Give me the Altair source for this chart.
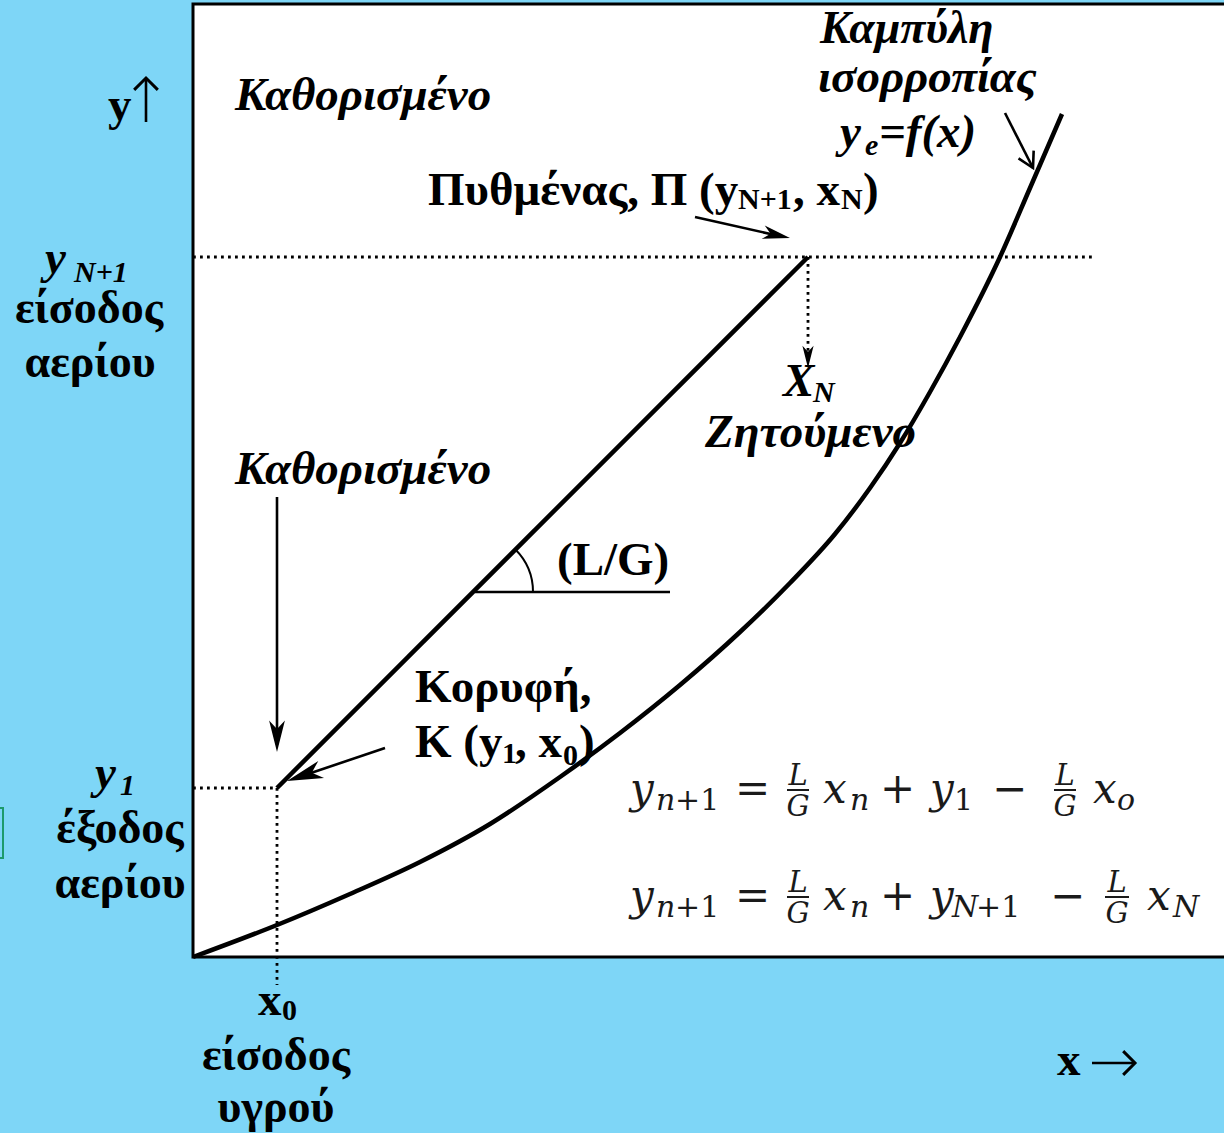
import altair as alt
import pandas as pd

# ---- diagram coordinates (x: liquid concentration, y: gas concentration) ----
# equilibrium curve y_e = f(x)
eq_x = [0.00, 0.84, 1.57, 2.27, 2.97, 3.67, 4.27, 4.87, 5.47, 5.97, 6.42, 6.77, 7.07, 7.37, 7.67, 8.07, 8.37, 8.69]
eq_y = [0.00, 0.32, 0.63, 0.95, 1.33, 1.80, 2.24, 2.72, 3.25, 3.74, 4.23, 4.69, 5.14, 5.65, 6.20, 7.00, 7.69, 8.43]

# operating line: top K(x0, y1) to bottom P(xN, yN+1), slope L/G
x0, y1 = 0.84, 1.69
xN, yN1 = 6.15, 7.00

X_DOMAIN = [-1.93, 10.31]
Y_DOMAIN = [-1.76, 9.57]
FONT = "Liberation Serif"
MATH_FONT = "DejaVu Serif"
BG = "#7ED6F7"

xs = alt.Scale(domain=X_DOMAIN, nice=False, zero=False)
ys = alt.Scale(domain=Y_DOMAIN, nice=False, zero=False)


def X(field="x"):
    return alt.X(f"{field}:Q", scale=xs, axis=None)


def Y(field="y"):
    return alt.Y(f"{field}:Q", scale=ys, axis=None)


# white plotting frame
frame = alt.Chart(pd.DataFrame({"x": [0.0], "x2": [10.6], "y": [0.0], "y2": [9.53]})).mark_rect(
    fill="white", stroke="black", strokeWidth=3, clip=True
).encode(x=X(), x2="x2:Q", y=Y(), y2="y2:Q")

# small green box fragment at the left edge
green = alt.Chart(pd.DataFrame({"x": [-2.05], "x2": [-1.90], "y": [0.99], "y2": [1.49]})).mark_rect(
    filled=False, stroke="#1d9a6c", strokeWidth=2, clip=True
).encode(x=X(), x2="x2:Q", y=Y(), y2="y2:Q")

# equilibrium curve
curve = alt.Chart(pd.DataFrame({"x": eq_x, "y": eq_y})).mark_line(
    color="black", strokeWidth=4.5, interpolate="monotone"
).encode(x=X(), y=Y())

# operating line
op_line = alt.Chart(pd.DataFrame({"x": [x0], "y": [y1], "x2": [xN], "y2": [yN1]})).mark_rule(
    color="black", strokeWidth=4.5
).encode(x=X(), y=Y(), x2="x2:Q", y2="y2:Q")

# dotted guide lines
guides = pd.DataFrame({
    "x":  [0.0, xN, 0.0, x0],
    "y":  [yN1, yN1, y1, y1],
    "x2": [8.99, xN, x0, x0],
    "y2": [yN1, 6.03, y1, -0.28],
})
dotted = alt.Chart(guides).mark_rule(
    color="black", strokeWidth=2.8, strokeDash=[2.8, 4.2]
).encode(x=X(), y=Y(), x2="x2:Q", y2="y2:Q")

# solid arrow shafts (annotation arrows and the axis direction arrows)
shafts = pd.DataFrame({
    "x":  [5.02, 0.84, 1.92, 8.12, -0.47, 8.99],
    "y":  [7.40, 4.60, 2.09, 8.44, 8.35, -1.06],
    "x2": [5.82, 0.84, 1.12, 8.40, -0.47, 9.41],
    "y2": [7.22, 2.22, 1.82, 7.89, 8.78, -1.06],
})
shaft_marks = alt.Chart(shafts).mark_rule(color="black", strokeWidth=2.6).encode(
    x=X(), y=Y(), x2="x2:Q", y2="y2:Q"
)

# filled barbed arrow heads (tip at the point, pointing along +x before rotation)
HEAD = "M0,0 L-2,-0.5 L-1.45,0 L-2,0.5 Z"
heads = pd.DataFrame({
    "x":   [5.97, 0.84, 0.94, 6.15],
    "y":   [7.19, 2.05, 1.76, 5.89],
    "ang": [12.5, 90.0, 161.4, 90.0],
    "sz":  [750, 1000, 1300, 500],
})
head_marks = alt.Chart(heads).mark_point(shape=HEAD, filled=True, color="black", opacity=1).encode(
    x=X(), y=Y(),
    angle=alt.Angle("ang:Q", scale=None),
    size=alt.Size("sz:Q", scale=None),
)

# open arrow head pointing at the equilibrium curve
open_head = alt.Chart(pd.DataFrame({"x": [8.40], "y": [7.89], "ang": [63.0]})).mark_point(
    shape="M-1.7,-0.95 L0,0 L-1.7,0.95", filled=False, color="black", strokeWidth=2.6, size=320, opacity=1
).encode(x=X(), y=Y(), angle=alt.Angle("ang:Q", scale=None))

# open heads of the y-up and x-right direction arrows
axis_heads = alt.Chart(pd.DataFrame({"x": [-0.47, 9.42], "y": [8.79, -1.06], "ang": [270.0, 0.0]})).mark_point(
    shape="M-1,-1 L0,0 L-1,1", filled=False, color="black", strokeWidth=3, size=560, opacity=1
).encode(x=X(), y=Y(), angle=alt.Angle("ang:Q", scale=None))

# slope marker: horizontal reference and angle arc
lg_line = alt.Chart(pd.DataFrame({"x": [2.82], "x2": [4.77], "y": [3.65]})).mark_rule(
    color="black", strokeWidth=2.6
).encode(x=X(), x2="x2:Q", y=Y())
lg_arc = alt.Chart(pd.DataFrame({"x": [2.80], "y": [3.65]})).mark_arc(
    theta=0.785, theta2=1.571, radius=60, radius2=60, filled=False, stroke="black", strokeWidth=2
).encode(x=X(), y=Y())

# fraction bars of the operating line equations
fbars = pd.DataFrame({
    "x":  [5.94, 8.61, 5.94, 9.12],
    "x2": [6.16, 8.83, 6.16, 9.36],
    "y":  [1.67, 1.67, 0.60, 0.60],
})
frac_bars = alt.Chart(fbars).mark_rule(color="#1a1a1a", strokeWidth=2).encode(
    x=X(), x2="x2:Q", y=Y()
)

STYLES = {
    "bold":        dict(font=FONT, fontSize=47, fontWeight="bold", align="left"),
    "bold_c":      dict(font=FONT, fontSize=46, fontWeight="bold", align="center"),
    "bold_it":     dict(font=FONT, fontSize=47, fontWeight="bold", fontStyle="italic", align="left"),
    "bold_it_sm":  dict(font=FONT, fontSize=46, fontWeight="bold", fontStyle="italic", align="left"),
    "bold_sub":    dict(font=FONT, fontSize=30, fontWeight="bold", align="left"),
    "bold_it_sub": dict(font=FONT, fontSize=30, fontWeight="bold", fontStyle="italic", align="left"),
    "m_it":        dict(font=MATH_FONT, fontSize=42, fontStyle="italic", align="left", color="#1a1a1a"),
    "m_up":        dict(font=MATH_FONT, fontSize=42, align="left", color="#1a1a1a"),
    "s_it":        dict(font=MATH_FONT, fontSize=30, fontStyle="italic", align="left", color="#1a1a1a"),
    "s_up":        dict(font=MATH_FONT, fontSize=30, align="left", color="#1a1a1a"),
    "frac":        dict(font=MATH_FONT, fontSize=29, fontStyle="italic", align="center", color="#1a1a1a"),
}

labels = [
    # axis and side labels
    (-0.85, 8.37, "y", "bold"),
    (-1.48, 6.84, "y", "bold_it"), (-1.19, 6.75, "N+1", "bold_it_sub"),
    (-1.04, 6.34, "είσοδος", "bold_c"), (-1.03, 5.80, "αερίου", "bold_c"),
    (-0.98, 1.69, "y", "bold_it"), (-0.73, 1.62, "1", "bold_it_sub"),
    (-0.73, 1.14, "έξοδος", "bold_c"), (-0.73, 0.59, "αερίου", "bold_c"),
    (0.65, -0.58, "x", "bold"), (0.89, -0.63, "0", "bold_sub"),
    (0.83, -1.13, "είσοδος", "bold_c"), (0.83, -1.65, "υγρού", "bold_c"),
    (8.64, -1.18, "x", "bold"),
    # annotations inside the frame
    (0.42, 8.47, "Καθορισμένο", "bold_it"),
    (0.42, 4.73, "Καθορισμένο", "bold_it"),
    (6.27, 9.14, "Καμπύλη", "bold_it_sm"),
    (6.25, 8.65, "ισορροπίας", "bold_it"),
    (6.47, 8.10, "y", "bold_it"), (6.72, 8.02, "e", "bold_it_sub"), (6.86, 8.10, "=f(x)", "bold_it"),
    (2.35, 7.52, "Πυθμένας, Π (y", "bold"), (5.45, 7.48, "N+1", "bold_sub"),
    (6.00, 7.52, ", x", "bold"), (6.48, 7.48, "N", "bold_sub"), (6.70, 7.52, ")", "bold"),
    (5.90, 5.61, "X", "bold_it"), (6.20, 5.55, "N", "bold_it_sub"),
    (5.12, 5.10, "Ζητούμενο", "bold_it"),
    (3.64, 3.82, "(L/G)", "bold"),
    (2.22, 2.55, "Κορυφή,", "bold"),
    (2.22, 2.00, "Κ (y", "bold"), (3.09, 1.94, "1", "bold_sub"),
    (3.22, 2.00, ", x", "bold"), (3.70, 1.92, "0", "bold_sub"), (3.86, 2.00, ")", "bold"),
    # y_{n+1} = L/G x_n + y_1 - L/G x_o
    (4.37, 1.54, "y", "m_it"), (4.63, 1.47, "n", "s_it"), (4.82, 1.47, "+1", "s_up"),
    (5.42, 1.54, "=", "m_up"),
    (6.05, 1.72, "L", "frac"), (6.05, 1.41, "G", "frac"),
    (6.30, 1.54, "x", "m_it"), (6.57, 1.47, "n", "s_it"),
    (6.87, 1.54, "+", "m_up"),
    (7.37, 1.54, "y", "m_it"), (7.61, 1.47, "1", "s_up"),
    (7.99, 1.54, "−", "m_up"),
    (8.72, 1.72, "L", "frac"), (8.72, 1.41, "G", "frac"),
    (9.00, 1.54, "x", "m_it"), (9.24, 1.47, "o", "s_it"),
    # y_{n+1} = L/G x_n + y_{N+1} - L/G x_N
    (4.37, 0.47, "y", "m_it"), (4.63, 0.40, "n", "s_it"), (4.82, 0.40, "+1", "s_up"),
    (5.42, 0.47, "=", "m_up"),
    (6.05, 0.65, "L", "frac"), (6.05, 0.34, "G", "frac"),
    (6.30, 0.47, "x", "m_it"), (6.57, 0.40, "n", "s_it"),
    (6.87, 0.47, "+", "m_up"),
    (7.37, 0.47, "y", "m_it"), (7.59, 0.40, "N", "s_it"), (7.83, 0.40, "+1", "s_up"),
    (8.57, 0.47, "−", "m_up"),
    (9.24, 0.65, "L", "frac"), (9.24, 0.34, "G", "frac"),
    (9.54, 0.47, "x", "m_it"), (9.80, 0.40, "N", "s_it"),
]
label_df = pd.DataFrame(labels, columns=["x", "y", "text", "style"])

text_layers = []
for name, props in STYLES.items():
    sub = label_df[label_df["style"] == name]
    if sub.empty:
        continue
    p = dict(baseline="alphabetic", color="black")
    p.update(props)
    text_layers.append(
        alt.Chart(sub).mark_text(**p).encode(x=X(), y=Y(), text="text:N")
    )

chart = alt.layer(
    frame, green, dotted, curve, op_line, shaft_marks, head_marks, open_head, axis_heads,
    lg_line, lg_arc, frac_bars, *text_layers
).properties(
    width=1224, height=1133, background=BG, padding=0,
    autosize=alt.AutoSizeParams(type="none"),
).configure_view(strokeWidth=0)

chart.save("out.html", embed_options={"renderer": "svg", "actions": False})
